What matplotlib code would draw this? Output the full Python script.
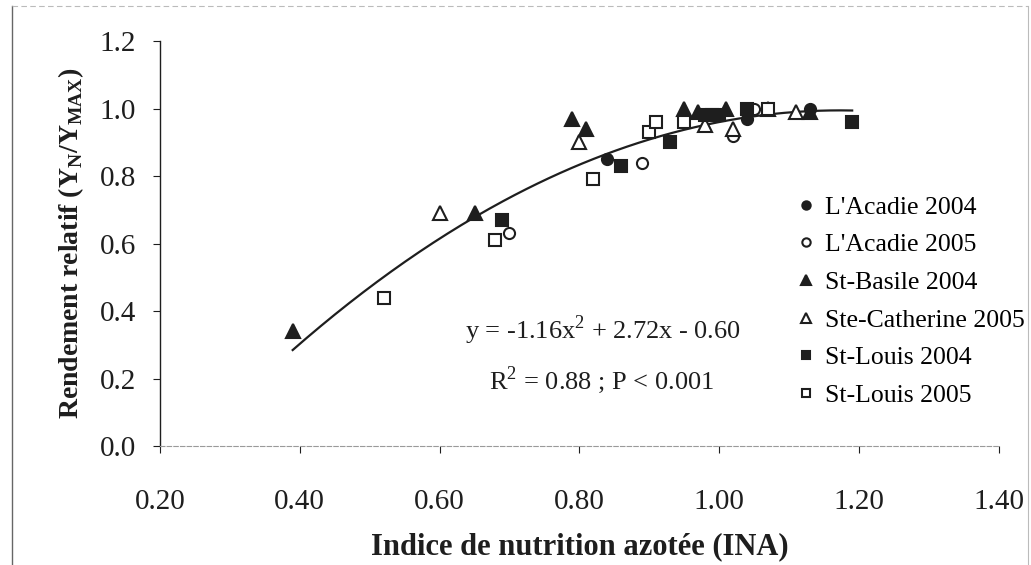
import matplotlib
matplotlib.use("Agg")
import matplotlib.pyplot as plt
import numpy as np

plt.rcParams['font.family'] = ['Liberation Serif', 'DejaVu Serif']
plt.rcParams['mathtext.fontset'] = 'custom'
plt.rcParams['mathtext.rm'] = 'Liberation Serif'
plt.rcParams['mathtext.bf'] = 'Liberation Serif:bold'

# INA et rendement relatif par site / année
acadie04_x = [0.84, 1.04, 1.13]
acadie04_y = [0.85, 0.97, 1.00]
acadie05_x = [0.70, 0.89, 1.02, 1.05]
acadie05_y = [0.63, 0.84, 0.92, 1.00]
basile04_x = [0.39, 0.65, 0.79, 0.81, 0.95, 0.97, 1.01, 1.13]
basile04_y = [0.34, 0.69, 0.97, 0.94, 1.00, 0.99, 1.00, 0.99]
cath05_x = [0.60, 0.80, 0.98, 1.02, 1.07, 1.11]
cath05_y = [0.69, 0.90, 0.95, 0.94, 1.00, 0.99]
louis04_x = [0.69, 0.86, 0.93, 0.98, 0.99, 1.00, 1.04, 1.19]
louis04_y = [0.67, 0.83, 0.90, 0.98, 0.98, 0.98, 1.00, 0.96]
louis05_x = [0.52, 0.68, 0.82, 0.90, 0.91, 0.95, 1.07]
louis05_y = [0.44, 0.61, 0.79, 0.93, 0.96, 0.96, 1.00]

# régression quadratique
coef = [-1.16, 2.72, -0.60]
r2 = 0.88

xticks = [0.20, 0.40, 0.60, 0.80, 1.00, 1.20, 1.40]
yticks = [0.0, 0.2, 0.4, 0.6, 0.8, 1.0, 1.2]

series = [
    (acadie04_x, acadie04_y, 'o', True, "L'Acadie 2004"),
    (acadie05_x, acadie05_y, 'o', False, "L'Acadie 2005"),
    (basile04_x, basile04_y, '^', True, "St-Basile 2004"),
    (cath05_x, cath05_y, '^', False, "Ste-Catherine 2005"),
    (louis04_x, louis04_y, 's', True, "St-Louis 2004"),
    (louis05_x, louis05_y, 's', False, "St-Louis 2005"),
]
sizes = {'o': 8, '^': 10, 's': 8}

ink = '#1e1e1e'

fig = plt.figure(figsize=(10.31, 5.65), dpi=100)
ax = fig.add_axes([0.155, 0.2106, 0.814, 0.7168])

for xs, ys, m, filled, lab in series:
    ax.plot(xs, ys, linestyle='none', marker=m, markersize=sizes[m],
            markerfacecolor=ink if filled else 'white',
            markeredgecolor=ink, markeredgewidth=1.5, label=lab, zorder=3)

all_x = np.concatenate([s[0] for s in series])
xc = np.linspace(all_x.min(), all_x.max(), 200)
ax.plot(xc, np.polyval(coef, xc), color=ink, lw=1.6, zorder=2)

ax.text(0.528, 0.286, 'y = %.2fx$^2$ + %.2fx - %.2f' % (coef[0], coef[1], -coef[2]),
        transform=ax.transAxes, ha='center', va='center', fontsize=19, color=ink)
ax.text(0.526, 0.163, 'R$^2$ = %.2f ; P < 0.001' % r2,
        transform=ax.transAxes, ha='center', va='center', fontsize=19, color=ink)

ax.set_xlim(0.2, 1.4)
ax.set_ylim(0, 1.2)
ax.set_xticks(xticks)
ax.set_xticklabels(['%.2f' % v for v in xticks])
ax.set_yticks(yticks)
ax.set_yticklabels(['%.1f' % v for v in yticks])
ax.tick_params(axis='both', labelsize=21, colors=ink, length=5, width=0.8)
ax.tick_params(axis='x', pad=26)
ax.tick_params(axis='y', pad=12)

ax.spines['top'].set_visible(False)
ax.spines['right'].set_visible(False)
ax.spines['left'].set_color(ink)
ax.spines['left'].set_linewidth(1.0)
ax.spines['bottom'].set_color('#9a9a9a')
ax.spines['bottom'].set_linestyle((0, (4, 2)))

ax.set_xlabel('Indice de nutrition azotée (INA)', fontsize=22, fontweight='bold',
              color=ink, labelpad=12)
ax.set_ylabel(r'Rendement relatif (Y$_\mathbf{N}$/Y$_\mathbf{MAX}$)', fontsize=20,
              fontweight='bold', color=ink, labelpad=10)

ax.legend(loc='upper left', bbox_to_anchor=(0.761, 0.618), frameon=False,
          fontsize=18.5, handlelength=0.6, handletextpad=0.45, labelspacing=0.57,
          markerscale=0.75, borderaxespad=0, borderpad=0)

# cadre de la figure
fig.add_artist(plt.Line2D([0.012, 0.012], [0.0, 0.99], color='#666666', lw=1.0))
fig.add_artist(plt.Line2D([0.012, 0.997], [0.99, 0.99], color='#bbbbbb', lw=0.8,
                          linestyle=(0, (5, 3))))
fig.add_artist(plt.Line2D([0.997, 0.997], [0.0, 0.99], color='#bbbbbb', lw=0.8))

fig.savefig('out.png', dpi=100)
